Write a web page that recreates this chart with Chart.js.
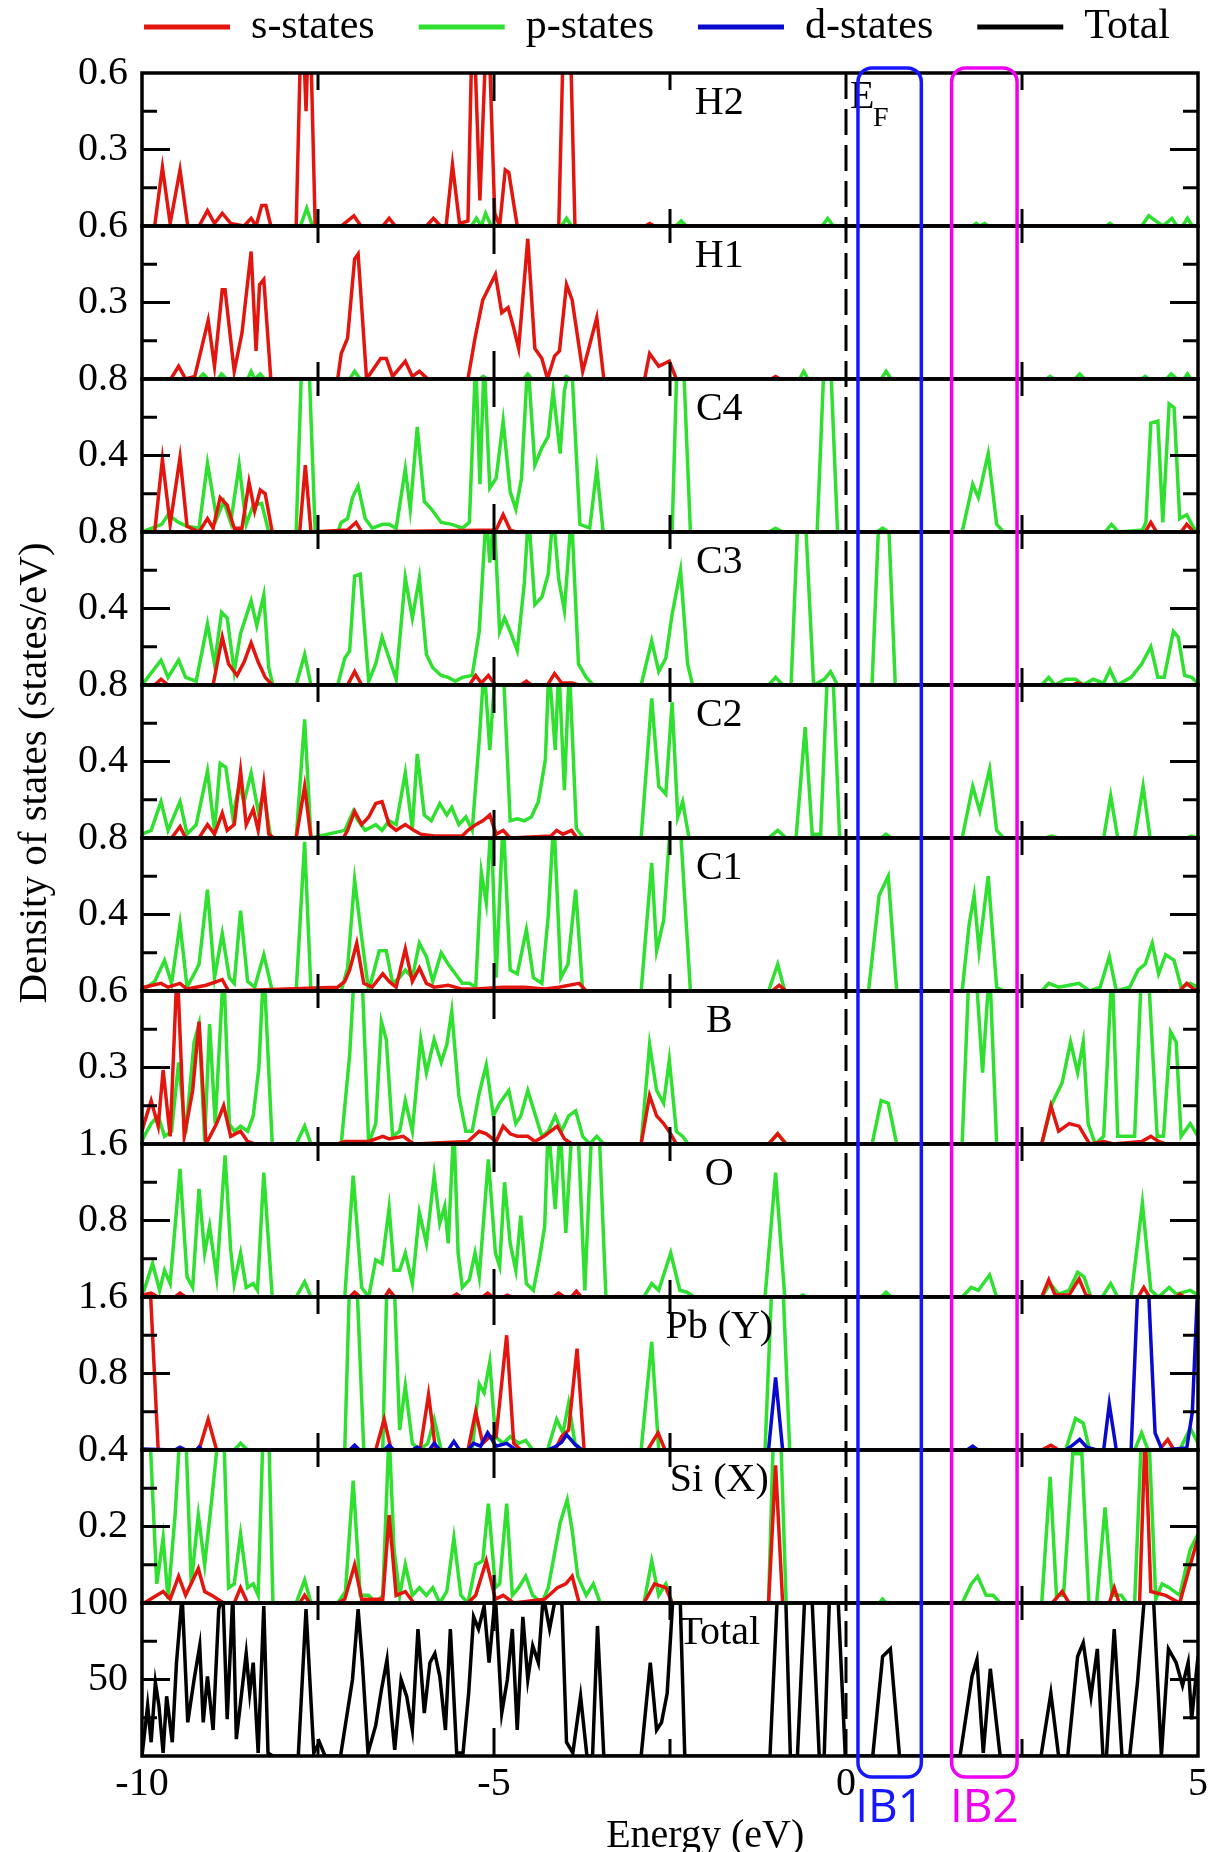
<!DOCTYPE html>
<html>
<head>
<meta charset="utf-8">
<script src="https://cdn.jsdelivr.net/npm/chart.js@4.4.1/dist/chart.umd.min.js"></script>
<style>
  html, body { margin: 0; padding: 0; background: #fff; }
  #wrap { width: 1212px; height: 1852px; position: relative; }
</style>
</head>
<body>
<div id="wrap"><canvas id="dosChart"></canvas></div>
<script>
// panels from top to bottom, with the y range of each one
const panelNames = ['H2', 'H1', 'C4', 'C3', 'C2', 'C1', 'B', 'O', 'Pb (Y)', 'Si (X)', 'Total'];
const panelMax = [0.6, 0.6, 0.8, 0.8, 0.8, 0.8, 0.6, 1.6, 1.6, 0.4, 100];
const energyTicks = [-10, -5, 0, 5];
const legendNames = ['s-states', 'p-states', 'd-states', 'Total'];

// [energy (eV), DOS (states/eV)]
const H2_s = [[-10,0],[-9.82,0],[-9.71,0.23],[-9.6,0.01],[-9.46,0.22],[-9.35,0],[-9.19,0],[-9.07,0.06],[-8.97,0.01],[-8.86,0.05],[-8.74,0.01],[-8.55,0],[-8.45,0.03],[-8.38,0],[-8.3,0.08],[-8.24,0.08],[-8.17,0],[-7.81,0],[-7.73,0.9],[-7.67,0.45],[-7.62,0.9],[-7.54,0],[-7.17,0],[-6.99,0.04],[-6.89,0],[-6.58,0],[-6.49,0.03],[-6.4,0],[-5.96,0],[-5.86,0.03],[-5.76,0],[-5.68,0],[-5.59,0.24],[-5.49,0.01],[-5.37,0.02],[-5.3,0.9],[-5.2,0.1],[-5.09,0.9],[-4.99,0.05],[-4.92,0],[-4.84,0.22],[-4.79,0.21],[-4.67,0],[-4.08,0],[-4.0,0.9],[-3.93,0.9],[-3.85,0],[-2.85,0],[-2.79,0.01],[-2.72,0],[5,0]];
const H2_p = [[-10,0],[-7.75,0],[-7.66,0.07],[-7.58,0],[-5.32,0],[-5.25,0.03],[-5.18,0],[-5.12,0.05],[-5.04,0],[-4.04,0],[-3.97,0.03],[-3.9,0],[-2.42,0],[-2.34,0.02],[-2.27,0],[-0.34,0],[-0.26,0.03],[-0.18,0],[1.8,0],[1.85,0.01],[1.9,0],[1.97,0.01],[2.02,0],[3.7,0],[3.75,0.01],[3.8,0],[4.2,0],[4.3,0.04],[4.4,0.02],[4.5,0],[4.63,0.03],[4.7,0],[4.78,0],[4.85,0.03],[4.92,0],[5,0]];
const H1_s = [[-10,0],[-9.59,0],[-9.48,0.05],[-9.38,0],[-9.25,0.01],[-9.06,0.23],[-8.97,0.05],[-8.86,0.35],[-8.82,0.35],[-8.69,0.03],[-8.58,0.18],[-8.45,0.5],[-8.38,0.11],[-8.33,0.37],[-8.27,0.39],[-8.17,0],[-7.22,0],[-7.17,0.1],[-7.08,0.16],[-6.98,0.47],[-6.93,0.49],[-6.81,0],[-6.61,0.08],[-6.53,0.08],[-6.44,0.01],[-6.26,0.07],[-6.16,0.01],[-6.06,0.03],[-5.94,0],[-5.37,0],[-5.27,0.16],[-5.16,0.31],[-4.98,0.41],[-4.89,0.26],[-4.8,0.28],[-4.72,0.2],[-4.65,0.12],[-4.52,0.55],[-4.42,0.12],[-4.32,0.08],[-4.24,0],[-4.14,0.09],[-4.07,0.11],[-3.97,0.37],[-3.89,0.31],[-3.74,0.03],[-3.54,0.24],[-3.44,0],[-2.86,0],[-2.79,0.1],[-2.66,0.05],[-2.51,0.07],[-2.41,0],[-1.06,0],[-1.0,0.01],[-0.94,0],[5,0]];
const H1_p = [[-10,0],[-9.2,0],[-9.13,0.02],[-9.06,0],[-8.92,0],[-8.87,0.02],[-8.8,0],[-8.5,0],[-8.45,0.03],[-8.4,0],[-8.32,0.02],[-8.26,0],[-7.05,0],[-6.98,0.03],[-6.9,0],[-5.2,0],[-5.15,0.01],[-5.1,0],[-4.58,0],[-4.52,0.02],[-4.46,0],[-4.02,0],[-3.97,0.01],[-3.92,0],[-0.66,0],[-0.6,0.03],[-0.54,0],[0.5,0],[0.57,0.03],[0.64,0],[2.85,0],[2.9,0.01],[2.95,0],[3.25,0],[3.32,0.02],[3.39,0],[4.2,0],[4.25,0.01],[4.3,0],[4.55,0],[4.62,0.02],[4.7,0],[4.8,0],[4.85,0.02],[4.9,0],[5,0]];
const C4_s = [[-10,0],[-9.82,0],[-9.71,0.38],[-9.6,0.04],[-9.46,0.39],[-9.36,0.03],[-9.19,0],[-9.07,0.07],[-8.99,0.02],[-8.89,0.18],[-8.79,0.14],[-8.69,0.02],[-8.58,0.02],[-8.48,0.26],[-8.4,0.11],[-8.32,0.22],[-8.25,0.2],[-8.15,0],[-7.76,0],[-7.68,0.35],[-7.6,0],[-7.08,0.01],[-6.96,0.05],[-6.88,0],[-4.97,0.01],[-4.87,0.09],[-4.77,0.01],[-4.68,0],[4.25,0],[4.33,0.05],[4.41,0],[4.76,0],[4.84,0.04],[4.94,0],[5,0]];
const C4_p = [[-10,0],[-9.72,0.04],[-9.63,0.09],[-9.48,0.05],[-9.36,0.03],[-9.19,0.02],[-9.07,0.36],[-8.94,0.07],[-8.84,0.16],[-8.74,0.05],[-8.62,0.35],[-8.52,0.04],[-8.42,0.14],[-8.3,0.15],[-8.2,0],[-7.81,0],[-7.73,0.9],[-7.63,0.9],[-7.54,0],[-7.22,0],[-7.17,0.05],[-7.08,0.07],[-7.01,0.18],[-6.93,0.24],[-6.83,0.07],[-6.73,0.02],[-6.58,0.04],[-6.49,0.04],[-6.39,0.02],[-6.26,0.33],[-6.19,0.12],[-6.09,0.55],[-5.99,0.16],[-5.89,0.12],[-5.75,0.05],[-5.6,0.04],[-5.45,0.02],[-5.35,0.05],[-5.26,0.9],[-5.2,0.25],[-5.14,0.9],[-5.06,0.23],[-4.97,0.28],[-4.87,0.58],[-4.77,0.21],[-4.69,0.12],[-4.61,0.28],[-4.52,0.9],[-4.42,0.35],[-4.32,0.44],[-4.23,0.5],[-4.16,0.74],[-4.06,0.41],[-4.0,0.74],[-3.9,0.9],[-3.78,0.04],[-3.64,0.02],[-3.54,0.33],[-3.45,0],[-2.47,0],[-2.4,0.9],[-2.31,0.9],[-2.21,0],[-1.1,0],[-1.0,0.02],[-0.9,0],[-0.41,0],[-0.31,0.9],[-0.22,0.9],[-0.12,0],[0.44,0],[0.52,0.02],[0.6,0],[1.65,0],[1.8,0.25],[1.88,0.18],[2.02,0.41],[2.14,0.04],[2.24,0],[3.68,0],[3.77,0.04],[3.87,0],[4.21,0.01],[4.26,0.05],[4.33,0.57],[4.43,0.58],[4.5,0.05],[4.59,0.67],[4.66,0.65],[4.74,0.07],[4.84,0.09],[4.94,0.02],[5,0.01]];
const C3_s = [[-10,0],[-9.82,0],[-9.73,0.03],[-9.63,0],[-8.99,0],[-8.86,0.25],[-8.77,0.11],[-8.65,0.05],[-8.55,0.12],[-8.45,0.22],[-8.35,0.12],[-8.25,0.04],[-8.15,0],[-7.08,0],[-6.98,0.07],[-6.88,0],[-5.35,0],[-5.26,0.05],[-5.18,0.01],[-5.08,0.05],[-4.98,0],[-4.62,0],[-4.54,0.02],[-4.47,0],[-4.24,0],[-4.14,0.06],[-4.04,0.01],[-3.89,0.01],[-3.8,0],[3.22,0],[3.29,0.01],[3.37,0],[5,0]];
const C3_p = [[-10,0],[-9.73,0.13],[-9.63,0.04],[-9.48,0.13],[-9.38,0.04],[-9.23,0.02],[-9.07,0.32],[-8.97,0.11],[-8.87,0.38],[-8.79,0.35],[-8.69,0.07],[-8.6,0.27],[-8.45,0.44],[-8.37,0.31],[-8.27,0.47],[-8.2,0.09],[-8.14,0],[-7.81,0],[-7.69,0.16],[-7.6,0],[-7.22,0],[-7.12,0.14],[-7.05,0.18],[-6.98,0.57],[-6.9,0.58],[-6.78,0.02],[-6.68,0.11],[-6.59,0.25],[-6.49,0.14],[-6.39,0.03],[-6.26,0.56],[-6.16,0.35],[-6.06,0.56],[-5.96,0.16],[-5.87,0.09],[-5.75,0.05],[-5.65,0.04],[-5.55,0.02],[-5.45,0.04],[-5.31,0.05],[-5.21,0.28],[-5.11,0.9],[-5.06,0.64],[-5.0,0.9],[-4.92,0.28],[-4.85,0.35],[-4.77,0.28],[-4.67,0.18],[-4.57,0.53],[-4.51,0.9],[-4.42,0.42],[-4.32,0.46],[-4.23,0.58],[-4.16,0.9],[-4.08,0.55],[-4.0,0.39],[-3.9,0.9],[-3.8,0.11],[-3.69,0.04],[-3.59,0],[-2.91,0],[-2.76,0.23],[-2.66,0.07],[-2.56,0.14],[-2.47,0.37],[-2.35,0.6],[-2.25,0.11],[-2.18,0],[-1.1,0],[-1.0,0.04],[-0.9,0],[-0.78,0],[-0.68,0.9],[-0.58,0.9],[-0.46,0],[-0.31,0.03],[-0.22,0.07],[-0.12,0],[0.37,0],[0.47,0.9],[0.6,0.9],[0.7,0],[2.78,0],[2.88,0.04],[2.97,0],[3.12,0.03],[3.26,0.03],[3.37,0],[3.51,0.03],[3.66,0.01],[3.75,0.08],[3.85,0],[4.05,0.04],[4.2,0.11],[4.33,0.2],[4.43,0.04],[4.52,0.04],[4.65,0.28],[4.72,0.25],[4.81,0.05],[4.91,0.04],[5,0.01]];
const C2_s = [[-10,0],[-9.58,0],[-9.46,0.06],[-9.38,0],[-9.19,0],[-9.07,0.07],[-8.97,0.02],[-8.86,0.13],[-8.79,0.04],[-8.69,0.07],[-8.6,0.35],[-8.52,0.07],[-8.42,0.15],[-8.35,0.04],[-8.27,0.28],[-8.2,0.02],[-8.13,0],[-7.81,0],[-7.69,0.27],[-7.6,0],[-7.14,0],[-7.08,0.04],[-6.98,0.14],[-6.88,0.07],[-6.78,0.11],[-6.68,0.18],[-6.59,0.19],[-6.49,0.07],[-6.39,0.04],[-6.26,0.07],[-6.14,0.04],[-6.04,0.02],[-5.85,0.01],[-5.65,0.01],[-5.45,0.01],[-5.37,0.04],[-5.26,0.07],[-5.16,0.09],[-5.06,0.12],[-4.97,0.02],[-4.87,0.04],[-4.77,0],[-4.19,0.01],[-4.11,0.04],[-4.02,0.02],[-3.9,0.04],[-3.82,0],[5,0]];
const C2_p = [[-10,0.02],[-9.87,0.04],[-9.73,0.19],[-9.63,0.04],[-9.46,0.19],[-9.36,0.02],[-9.23,0.07],[-9.07,0.35],[-8.97,0.04],[-8.89,0.39],[-8.81,0.37],[-8.71,0.11],[-8.62,0.28],[-8.55,0.19],[-8.45,0.34],[-8.35,0.14],[-8.27,0.23],[-8.17,0],[-7.81,0],[-7.69,0.62],[-7.6,0],[-7.12,0.04],[-7.0,0.14],[-6.93,0.09],[-6.83,0.04],[-6.68,0.07],[-6.59,0.04],[-6.49,0.09],[-6.39,0.07],[-6.26,0.34],[-6.16,0.05],[-6.09,0.44],[-5.99,0.12],[-5.89,0.09],[-5.77,0.18],[-5.67,0.12],[-5.6,0.16],[-5.5,0.07],[-5.4,0.11],[-5.31,0.04],[-5.21,0.51],[-5.14,0.9],[-5.06,0.46],[-4.98,0.9],[-4.87,0.9],[-4.77,0.09],[-4.67,0.1],[-4.57,0.09],[-4.47,0.11],[-4.37,0.19],[-4.27,0.41],[-4.22,0.9],[-4.13,0.46],[-4.08,0.9],[-4.0,0.25],[-3.93,0.9],[-3.83,0.05],[-3.73,0],[-2.91,0],[-2.76,0.73],[-2.66,0.27],[-2.56,0.23],[-2.47,0.71],[-2.39,0.11],[-2.32,0.19],[-2.23,0],[-1.1,0],[-0.97,0.04],[-0.85,0],[-0.71,0],[-0.58,0.58],[-0.48,0.02],[-0.36,0.02],[-0.26,0.9],[-0.19,0.9],[-0.09,0],[0.5,0],[0.57,0.02],[0.64,0],[1.65,0],[1.8,0.27],[1.9,0.14],[2.04,0.36],[2.14,0.04],[2.24,0],[2.83,0],[2.92,0.01],[3.02,0],[3.66,0],[3.76,0.22],[3.86,0],[4.1,0],[4.22,0.27],[4.32,0],[4.84,0],[4.91,0.01],[5,0]];
const C1_s = [[-10,0.01],[-9.97,0.02],[-9.73,0.04],[-9.63,0.02],[-9.46,0.04],[-9.36,0.01],[-9.09,0.03],[-8.86,0.06],[-8.77,0],[-7.22,0.02],[-7.12,0.05],[-7.05,0.11],[-6.95,0.25],[-6.85,0.04],[-6.73,0.02],[-6.58,0.09],[-6.49,0.05],[-6.39,0.02],[-6.26,0.22],[-6.16,0.05],[-6.06,0.12],[-5.96,0.04],[-5.85,0.02],[-5.65,0.03],[-5.45,0.01],[-5.26,0.01],[-4.87,0.02],[-4.57,0.02],[-4.28,0.01],[-4.08,0.02],[-3.79,0.04],[-3.69,0],[-1.05,0],[-0.95,0.03],[-0.85,0],[4.74,0],[4.84,0.04],[4.94,0.01],[5,0]];
const C1_p = [[-10,0],[-9.82,0.05],[-9.68,0.16],[-9.58,0.04],[-9.46,0.35],[-9.36,0.02],[-9.23,0.11],[-9.19,0.14],[-9.07,0.53],[-8.97,0.07],[-8.86,0.3],[-8.76,0.07],[-8.69,0.04],[-8.6,0.42],[-8.5,0.05],[-8.4,0.02],[-8.27,0.19],[-8.15,0],[-7.81,0],[-7.69,0.78],[-7.6,0],[-7.17,0],[-7.08,0.12],[-6.98,0.58],[-6.88,0.28],[-6.78,0],[-6.63,0.21],[-6.53,0.21],[-6.44,0.04],[-6.34,0.07],[-6.26,0.11],[-6.16,0.07],[-6.06,0.25],[-5.96,0.18],[-5.87,0.05],[-5.75,0.2],[-5.65,0.14],[-5.55,0.09],[-5.45,0.04],[-5.35,0.04],[-5.26,0.02],[-5.18,0.62],[-5.11,0.46],[-5.04,0.9],[-4.97,0.07],[-4.87,0.9],[-4.77,0.11],[-4.67,0.09],[-4.54,0.32],[-4.44,0.07],[-4.32,0.04],[-4.23,0.39],[-4.15,0.9],[-4.05,0.07],[-3.95,0.14],[-3.84,0.53],[-3.74,0],[-2.91,0],[-2.76,0.67],[-2.69,0.21],[-2.59,0.37],[-2.49,0.9],[-2.36,0.9],[-2.21,0],[-1.1,0],[-0.97,0.14],[-0.87,0],[0.32,0],[0.47,0.5],[0.6,0.6],[0.72,0],[1.65,0],[1.75,0.35],[1.82,0.5],[1.89,0.21],[2.02,0.6],[2.14,0.02],[2.24,0],[2.78,0],[2.88,0.04],[3.02,0.02],[3.17,0.03],[3.31,0.04],[3.46,0],[3.61,0.02],[3.74,0.18],[3.84,0],[4.03,0.02],[4.15,0.11],[4.25,0.14],[4.35,0.25],[4.44,0.09],[4.54,0.19],[4.66,0.16],[4.76,0.02],[4.89,0.04],[5,0.02]];
const B_s = [[-10,0.05],[-9.97,0.08],[-9.87,0.17],[-9.77,0.07],[-9.7,0.29],[-9.6,0.03],[-9.5,0.7],[-9.4,0.03],[-9.28,0.21],[-9.19,0.48],[-9.09,0],[-8.94,0.08],[-8.84,0.15],[-8.74,0.03],[-8.6,0.05],[-8.5,0.01],[-8.4,0],[-7.22,0],[-7.12,0.01],[-6.98,0.01],[-6.78,0.01],[-6.58,0.03],[-6.49,0.02],[-6.29,0.03],[-6.14,0],[-5.37,0.01],[-5.21,0.05],[-5.11,0.04],[-4.97,0.01],[-4.87,0.07],[-4.77,0.04],[-4.67,0.03],[-4.52,0.03],[-4.42,0.01],[-4.29,0.03],[-4.1,0.07],[-4.0,0.02],[-3.89,0],[-2.91,0],[-2.79,0.19],[-2.69,0.11],[-2.59,0.08],[-2.49,0.04],[-2.41,0],[-1.1,0],[-0.97,0.04],[-0.85,0],[2.78,0],[2.91,0.15],[3.02,0.05],[3.17,0.08],[3.31,0.07],[3.46,0],[3.66,0.01],[3.8,0],[4.2,0.01],[4.33,0.03],[4.44,0.01],[4.54,0],[5,0]];
const B_p = [[-10,0.01],[-9.97,0.03],[-9.87,0.08],[-9.77,0.11],[-9.68,0.03],[-9.58,0.05],[-9.48,0.32],[-9.38,0.04],[-9.26,0.4],[-9.19,0.47],[-9.11,0.01],[-9.04,0.47],[-8.96,0.08],[-8.84,0.7],[-8.76,0.08],[-8.69,0.05],[-8.6,0.07],[-8.5,0.05],[-8.42,0.11],[-8.34,0.3],[-8.27,0.7],[-8.15,0],[-7.81,0],[-7.69,0.07],[-7.6,0],[-7.17,0],[-7.05,0.35],[-6.98,0.7],[-6.88,0.7],[-6.78,0],[-6.68,0.08],[-6.6,0.48],[-6.53,0.41],[-6.44,0.03],[-6.34,0.05],[-6.26,0.17],[-6.16,0.05],[-6.04,0.41],[-5.96,0.28],[-5.85,0.41],[-5.75,0.32],[-5.67,0.39],[-5.6,0.52],[-5.5,0.19],[-5.4,0.05],[-5.31,0.05],[-5.21,0.2],[-5.11,0.31],[-5.01,0.11],[-4.92,0.16],[-4.79,0.21],[-4.69,0.08],[-4.62,0.11],[-4.52,0.21],[-4.42,0.12],[-4.32,0.03],[-4.23,0.05],[-4.13,0.11],[-4.04,0.05],[-3.94,0.11],[-3.84,0.13],[-3.74,0.03],[-3.64,0],[-3.54,0.03],[-3.44,0],[-2.91,0],[-2.79,0.39],[-2.69,0.21],[-2.59,0.16],[-2.51,0.33],[-2.41,0.05],[-2.32,0.03],[-2.24,0],[-1.1,0],[-0.97,0.04],[-0.85,0],[0.37,0],[0.5,0.17],[0.6,0.16],[0.72,0],[1.65,0],[1.75,0.7],[1.84,0.7],[1.94,0.28],[2.04,0.7],[2.14,0],[2.78,0],[2.93,0.16],[3.07,0.24],[3.19,0.4],[3.29,0.28],[3.37,0.4],[3.44,0.08],[3.54,0],[3.66,0.03],[3.78,0.7],[3.86,0.03],[4.0,0.03],[4.1,0.03],[4.2,0.7],[4.29,0.7],[4.42,0.03],[4.51,0.03],[4.61,0.44],[4.69,0.4],[4.76,0.03],[4.89,0.08],[5,0.03]];
const O_s = [[-10,0.02],[-9.87,0.04],[-9.77,0],[-9.53,0],[-9.46,0.04],[-9.38,0],[-7.05,0],[-6.98,0.05],[-6.9,0],[-6.55,0],[-6.49,0.07],[-6.41,0],[-5.6,0],[-5.53,0.03],[-5.47,0],[-5.16,0],[-5.09,0.04],[-5.02,0],[-4.87,0],[-4.81,0.02],[-4.75,0],[-4.16,0],[-4.08,0.04],[-4.0,0],[-3.9,0],[-3.83,0.06],[-3.76,0],[2.78,0],[2.88,0.18],[2.97,0.02],[3.17,0.02],[3.31,0.19],[3.41,0.02],[3.51,0],[4.15,0],[4.23,0.1],[4.31,0],[4.69,0],[4.74,0.03],[4.81,0],[5,0]];
const O_p = [[-10,0.05],[-9.97,0.07],[-9.85,0.35],[-9.75,0.07],[-9.68,0.28],[-9.6,0.14],[-9.46,1.34],[-9.36,0.21],[-9.28,0.1],[-9.19,1.13],[-9.11,0.46],[-9.04,0.74],[-8.94,0.21],[-8.82,1.48],[-8.74,0.49],[-8.69,0.14],[-8.6,0.46],[-8.52,0.1],[-8.42,0.14],[-8.36,0.07],[-8.27,1.3],[-8.15,0],[-7.81,0],[-7.69,0.16],[-7.6,0],[-7.12,0],[-7.0,1.27],[-6.88,0.1],[-6.78,0],[-6.68,0.39],[-6.59,0.35],[-6.49,0.93],[-6.42,0.28],[-6.34,0.28],[-6.26,0.46],[-6.16,0.14],[-6.06,0.88],[-5.96,0.56],[-5.85,1.27],[-5.77,0.77],[-5.7,0.95],[-5.65,0.56],[-5.57,1.8],[-5.51,0.46],[-5.45,0.1],[-5.35,0.18],[-5.27,0.46],[-5.21,0.21],[-5.08,1.44],[-4.98,0.46],[-4.92,0.32],[-4.85,1.2],[-4.77,0.56],[-4.69,0.28],[-4.62,0.85],[-4.54,0.14],[-4.44,0.07],[-4.35,0.42],[-4.28,0.74],[-4.23,1.8],[-4.13,0.92],[-4.06,1.8],[-3.98,0.67],[-3.89,1.8],[-3.81,1.8],[-3.71,0.07],[-3.61,1.8],[-3.51,1.8],[-3.41,0],[-2.87,0],[-2.76,0.14],[-2.66,0.07],[-2.49,0.46],[-2.36,0.07],[-2.26,0.05],[-2.16,0],[-1.15,0],[-1.0,1.3],[-0.87,0],[-0.66,0],[-0.61,0.02],[-0.56,0],[0.5,0],[0.57,0.05],[0.64,0],[1.65,0],[1.78,0.1],[1.88,0.07],[2.04,0.23],[2.14,0],[2.78,0],[2.9,0.14],[3.02,0.03],[3.17,0.07],[3.29,0.26],[3.38,0.21],[3.48,0],[3.64,0],[3.76,0.14],[3.86,0],[4.05,0],[4.21,0.98],[4.33,0.07],[4.44,0],[4.59,0.1],[4.69,0.03],[4.89,0.07],[5,0.02]];
const Pb_s = [[-10,1.8],[-9.89,1.8],[-9.77,0],[-9.19,0],[-9.06,0.32],[-8.94,0],[-6.68,0],[-6.56,0.32],[-6.46,0],[-6.05,0],[-5.93,0.58],[-5.83,0],[-5.37,0],[-5.26,0.4],[-5.16,0.07],[-5.06,0.14],[-4.97,0.14],[-4.82,1.2],[-4.72,0.07],[-4.62,0],[-4.13,0],[-4.04,0.14],[-3.94,0.21],[-3.82,1.06],[-3.72,0],[-2.82,0],[-2.67,0.18],[-2.57,0],[2.78,0],[2.91,0.05],[3.02,0],[4.45,0],[4.57,0.11],[4.66,0],[5,0]];
const Pb_p = [[-10,0],[-8.69,0],[-8.6,0.07],[-8.5,0],[-7.12,0],[-7.05,1.8],[-6.95,1.8],[-6.85,0],[-6.58,0],[-6.52,1.8],[-6.42,1.8],[-6.34,0.21],[-6.26,0.67],[-6.16,0.07],[-6.06,0],[-5.94,0.07],[-5.85,0.32],[-5.75,0],[-5.31,0],[-5.21,0.69],[-5.14,0.6],[-5.06,0.92],[-4.98,0.14],[-4.87,0.07],[-4.77,0.14],[-4.65,0.07],[-4.55,0.1],[-4.45,0],[-4.24,0],[-4.11,0.32],[-4.02,0.18],[-3.94,0.49],[-3.85,0.07],[-3.75,0],[-2.91,0],[-2.76,1.13],[-2.66,0],[-1.15,0],[-1.05,1.8],[-0.9,1.8],[-0.8,0],[3.12,0],[3.26,0.33],[3.37,0.28],[3.46,0],[4.1,0],[4.2,0.18],[4.29,0],[4.74,0],[4.89,0.23],[5,0.07]];
const Pb_d = [[-10,0.01],[-9.53,0],[-9.46,0.03],[-9.38,0],[-9.23,0],[-9.19,0.03],[-9.14,0],[-7.05,0],[-6.98,0.05],[-6.91,0],[-6.56,0],[-6.49,0.05],[-6.42,0],[-6.16,0],[-6.09,0.03],[-6.02,0],[-5.92,0],[-5.85,0.07],[-5.77,0],[-5.65,0],[-5.57,0.09],[-5.49,0],[-5.37,0],[-5.29,0.07],[-5.19,0.04],[-5.09,0.18],[-4.97,0.04],[-4.82,0.07],[-4.69,0],[-4.24,0],[-4.14,0.03],[-4.04,0.08],[-3.97,0.16],[-3.84,0.05],[-3.75,0],[-1.1,0],[-1.0,0.76],[-0.9,0],[1.72,0],[1.8,0.04],[1.87,0],[3.12,0],[3.22,0.05],[3.32,0.11],[3.42,0.03],[3.56,0],[3.66,0],[3.74,0.48],[3.84,0],[4.05,0],[4.15,1.8],[4.29,1.8],[4.39,0.18],[4.49,0],[4.84,0.02],[4.92,0.4],[5,1.8]];
const Si_s = [[-10,0],[-9.97,0],[-9.7,0.03],[-9.6,0.01],[-9.48,0.07],[-9.38,0.02],[-9.2,0.09],[-9.11,0.03],[-9.01,0.02],[-8.84,0],[-8.69,0],[-8.6,0.04],[-8.5,0],[-7.76,0],[-7.69,0.02],[-7.62,0],[-7.22,0],[-7.12,0.01],[-6.98,0.1],[-6.88,0.01],[-6.58,0.01],[-6.49,0.23],[-6.39,0.02],[-6.26,0.03],[-6.14,0],[-5.37,0],[-5.26,0.02],[-5.11,0.11],[-4.98,0.01],[-4.87,0.02],[-4.72,0],[-4.28,0.01],[-4.1,0.04],[-3.98,0.05],[-3.89,0.07],[-3.79,0],[-2.87,0],[-2.72,0.05],[-2.56,0.04],[-2.47,0],[-1.1,0],[-1.0,0.36],[-0.9,0],[2.93,0],[3.07,0.03],[3.17,0],[3.74,0],[3.81,0.04],[3.88,0],[4.17,0],[4.25,0.45],[4.33,0.03],[4.54,0.02],[4.74,0],[4.89,0.1],[5,0.17]];
const Si_p = [[-10,0.45],[-9.89,0.45],[-9.79,0.05],[-9.7,0.17],[-9.63,0.01],[-9.53,0.23],[-9.46,0.45],[-9.38,0.45],[-9.3,0.05],[-9.2,0.23],[-9.11,0.1],[-9.01,0.27],[-8.91,0.45],[-8.84,0.45],[-8.77,0.04],[-8.69,0.05],[-8.6,0.18],[-8.5,0.04],[-8.42,0.05],[-8.35,0.02],[-8.28,0.45],[-8.2,0.45],[-8.14,0],[-7.81,0],[-7.69,0.06],[-7.6,0],[-7.22,0],[-7.11,0.03],[-7.0,0.32],[-6.9,0.02],[-6.78,0.02],[-6.68,0],[-6.58,0.02],[-6.49,0.45],[-6.42,0.14],[-6.34,0.02],[-6.26,0.1],[-6.16,0.02],[-6.06,0.04],[-5.96,0.02],[-5.87,0.04],[-5.77,0],[-5.67,0.03],[-5.57,0.17],[-5.47,0.02],[-5.37,0],[-5.26,0.1],[-5.16,0.11],[-5.08,0.26],[-4.98,0.04],[-4.92,0.05],[-4.82,0.26],[-4.74,0.02],[-4.65,0.04],[-4.55,0.07],[-4.45,0.02],[-4.32,0],[-4.23,0.04],[-4.13,0.14],[-4.06,0.21],[-3.96,0.27],[-3.89,0.19],[-3.81,0.07],[-3.69,0.02],[-3.59,0.05],[-3.49,0],[-2.87,0],[-2.76,0.11],[-2.66,0.02],[-2.56,0.05],[-2.47,0],[-1.1,0],[-1.03,0.45],[-0.93,0.45],[-0.85,0],[0.47,0],[0.52,0.01],[0.57,0],[1.65,0],[1.78,0.05],[1.87,0.07],[1.99,0.02],[2.09,0.02],[2.19,0],[2.78,0],[2.9,0.33],[2.99,0.02],[3.09,0.02],[3.22,0.39],[3.35,0.39],[3.45,0],[3.56,0],[3.68,0.25],[3.78,0.02],[3.91,0.02],[3.99,0],[4.1,0],[4.2,0.45],[4.3,0.45],[4.4,0.01],[4.49,0.05],[4.59,0.04],[4.74,0.02],[4.89,0.14],[5,0.18]];
const Total = [[-10,0],[-9.92,33],[-9.87,9],[-9.81,48],[-9.76,33],[-9.7,2],[-9.65,39],[-9.57,9],[-9.51,61],[-9.43,105],[-9.35,22],[-9.26,50],[-9.18,72],[-9.13,22],[-9.07,52],[-8.99,17],[-8.91,96],[-8.85,105],[-8.79,24],[-8.71,105],[-8.66,11],[-8.58,43],[-8.52,67],[-8.47,41],[-8.42,61],[-8.35,2],[-8.27,98],[-8.21,2],[-8.14,0],[-7.78,0],[-7.67,96],[-7.56,2],[-7.48,9],[-7.4,0],[-7.18,0],[-7.01,50],[-6.93,96],[-6.87,61],[-6.79,2],[-6.68,20],[-6.6,43],[-6.52,63],[-6.46,28],[-6.41,4],[-6.32,50],[-6.24,39],[-6.16,17],[-6.08,83],[-5.99,28],[-5.91,61],[-5.84,67],[-5.77,52],[-5.69,17],[-5.62,83],[-5.53,2],[-5.44,2],[-5.36,41],[-5.29,91],[-5.22,83],[-5.14,98],[-5.07,61],[-4.98,105],[-4.89,28],[-4.81,50],[-4.74,83],[-4.67,17],[-4.59,91],[-4.52,50],[-4.45,72],[-4.37,61],[-4.3,105],[-4.21,83],[-4.12,105],[-4.04,105],[-3.97,9],[-3.88,2],[-3.77,39],[-3.68,0],[-3.6,0],[-3.53,85],[-3.44,0],[-2.91,0],[-2.78,61],[-2.69,17],[-2.62,22],[-2.54,41],[-2.45,110],[-2.36,110],[-2.29,0],[-1.08,0],[-0.97,110],[-0.86,110],[-0.79,0],[-0.69,0],[-0.58,110],[-0.49,110],[-0.38,0],[-0.31,0],[-0.23,110],[-0.12,110],[-0.01,0],[0.38,0],[0.52,65],[0.63,70],[0.76,0],[1.62,0],[1.79,52],[1.86,63],[1.95,2],[2.05,57],[2.19,0],[2.77,0],[2.91,41],[3.02,0],[3.15,0],[3.29,65],[3.37,74],[3.48,39],[3.57,70],[3.65,0],[3.7,0],[3.81,83],[3.92,0],[4.03,0],[4.14,48],[4.25,110],[4.36,110],[4.48,0],[4.58,70],[4.69,61],[4.78,46],[4.86,61],[4.91,24],[5,65]];

// intermediate-band boxes (eV)
const ibBands = [
  {label: 'IB1', from: 0.17, to: 1.07, color: '#1717ff'},
  {label: 'IB2', from: 1.5, to: 2.43, color: '#f000f0'}
];

const panelSeries = [
  {s: H2_s, p: H2_p}, {s: H1_s, p: H1_p}, {s: C4_s, p: C4_p}, {s: C3_s, p: C3_p},
  {s: C2_s, p: C2_p}, {s: C1_s, p: C1_p}, {s: B_s, p: B_p}, {s: O_s, p: O_p},
  {s: Pb_s, p: Pb_p, d: Pb_d}, {s: Si_s, p: Si_p}, {t: Total}
];

const SERIF = "'Liberation Serif', 'Times New Roman', serif";
const SANS = "'Open Sans', 'Liberation Sans', sans-serif";
const RED = '#e3160f', GREEN = '#30e030', BLUE = '#0a0acc', BLACK = '#000000';
const legendColors = [RED, GREEN, BLUE, BLACK];

function line(data, color, i, order) {
  return {
    data, borderColor: color, backgroundColor: color, borderWidth: 3.5,
    pointRadius: 0, tension: 0, fill: false, yAxisID: 'y' + i, order, clip: 0
  };
}

const datasets = [];
panelSeries.forEach((sr, i) => {
  if (sr.d) datasets.push(line(sr.d, BLUE, i, 0));
  if (sr.s) datasets.push(line(sr.s, RED, i, 1));
  if (sr.p) datasets.push(line(sr.p, GREEN, i, 2));
  if (sr.t) datasets.push(line(sr.t, BLACK, i, 0));
});

const fmt = v => v >= 10 ? String(Math.round(v)) : v.toFixed(1);

const scales = {
  x: {
    type: 'linear', min: -10, max: 5,
    grid: {display: false, drawTicks: false},
    border: {display: false},
    ticks: {
      stepSize: 5, autoSkip: false, maxRotation: 0, padding: 4, color: '#000',
      font: {family: SERIF, size: 40},
      callback: v => energyTicks.includes(v) ? String(v) : ''
    },
    afterFit: s => { s.height = 96; }
  }
};
panelNames.forEach((name, i) => {
  scales['y' + i] = {
    type: 'linear', position: 'left', stack: 'dos', stackWeight: 1,
    weight: panelNames.length - i,
    min: 0, max: panelMax[i],
    grid: {display: false, drawTicks: false},
    border: {display: false},
    ticks: {
      stepSize: panelMax[i] / 4, autoSkip: false, padding: 14, color: '#000',
      font: {family: SERIF, size: 40},
      callback: (v, idx) => (idx === 2 || idx === 4) ? fmt(v) : ''
    },
    afterFit: s => { s.width = 142; }
  };
});

// frames, inside ticks, Fermi level, IB boxes and free text
const decor = {
  id: 'decor',
  afterDraw(chart) {
    const {ctx, chartArea: ca, scales: sc} = chart;
    const xs = sc.x;
    const seg = (x1, y1, x2, y2) => { ctx.beginPath(); ctx.moveTo(x1, y1); ctx.lineTo(x2, y2); ctx.stroke(); };
    ctx.save();
    ctx.strokeStyle = '#000';
    ctx.fillStyle = '#000';
    panelNames.forEach((name, i) => {
      const ys = sc['y' + i];
      ctx.lineWidth = 3;
      [0.25, 0.5, 0.75].forEach(f => {
        const y = ys.getPixelForValue(panelMax[i] * f);
        const len = f === 0.5 ? 28 : 15;
        seg(ca.left, y, ca.left + len, y);
        seg(ca.right, y, ca.right - len, y);
      });
      [-7.5, -5, -2.5, 2.5].forEach(e => {
        const x = xs.getPixelForValue(e);
        const len = e === -5 ? 28 : 17;
        seg(x, ys.top, x, ys.top + len);
        seg(x, ys.bottom, x, ys.bottom - len);
      });
      ctx.lineWidth = 3.5;
      ctx.strokeRect(ca.left, ys.top, ca.right - ca.left, ys.bottom - ys.top);
      ctx.font = `40px ${SERIF}`;
      ctx.textAlign = 'center';
      ctx.textBaseline = 'middle';
      ctx.fillText(name, xs.getPixelForValue(-1.8), ys.top + 30);
    });

    const xf = xs.getPixelForValue(0);
    ctx.lineWidth = 3;
    ctx.setLineDash([26, 10]);
    seg(xf, ca.top, xf, ca.bottom);
    ctx.setLineDash([]);
    const top0 = sc.y0.top;
    ctx.textAlign = 'left';
    ctx.font = `40px ${SERIF}`;
    ctx.fillText('E', xf + 4, top0 + 24);
    ctx.font = `28px ${SERIF}`;
    ctx.fillText('F', xf + 27, top0 + 46);

    ibBands.forEach(b => {
      const x1 = xs.getPixelForValue(b.from), x2 = xs.getPixelForValue(b.to);
      ctx.strokeStyle = b.color;
      ctx.lineWidth = 3.5;
      ctx.beginPath();
      ctx.roundRect(x1, ca.top - 5, x2 - x1, ca.bottom - ca.top + 26, 14);
      ctx.stroke();
      ctx.fillStyle = b.color;
      ctx.font = `46px ${SANS}`;
      ctx.textAlign = 'center';
      ctx.textBaseline = 'alphabetic';
      ctx.fillText(b.label, (x1 + x2) / 2, ca.bottom + 66);
    });

    ctx.fillStyle = '#000';
    ctx.font = `40px ${SERIF}`;
    ctx.textAlign = 'center';
    ctx.textBaseline = 'alphabetic';
    ctx.fillText('Energy (eV)', xs.getPixelForValue(-2.0), ca.bottom + 91);
    ctx.translate(35, 773);
    ctx.rotate(-Math.PI / 2);
    ctx.textBaseline = 'middle';
    ctx.font = `41px ${SERIF}`;
    ctx.fillText('Density of states (states/eV)', 0, 0);
    ctx.restore();
  }
};

new Chart(document.getElementById('dosChart'), {
  type: 'line',
  data: {datasets},
  options: {
    responsive: true,
    maintainAspectRatio: false,
    animation: false,
    devicePixelRatio: 1,
    events: [],
    layout: {padding: {top: -38, left: 0, right: -102, bottom: 0}},
    scales,
    plugins: {
      tooltip: {enabled: false},
      title: {display: true, text: ' ', weight: 500, font: {size: 10, lineHeight: 1}, padding: {top: 0, bottom: 5}},
      legend: {
        position: 'top', align: 'center',
        labels: {
          usePointStyle: true, pointStyleWidth: 86, padding: 44, color: '#000',
          font: {family: SERIF, size: 42},
          generateLabels: () => legendNames.map((text, k) => ({
            text, strokeStyle: legendColors[k], fillStyle: legendColors[k],
            lineWidth: 5, pointStyle: 'line', hidden: false, datasetIndex: k
          }))
        }
      }
    }
  },
  plugins: [decor]
});
</script>
</body>
</html>
